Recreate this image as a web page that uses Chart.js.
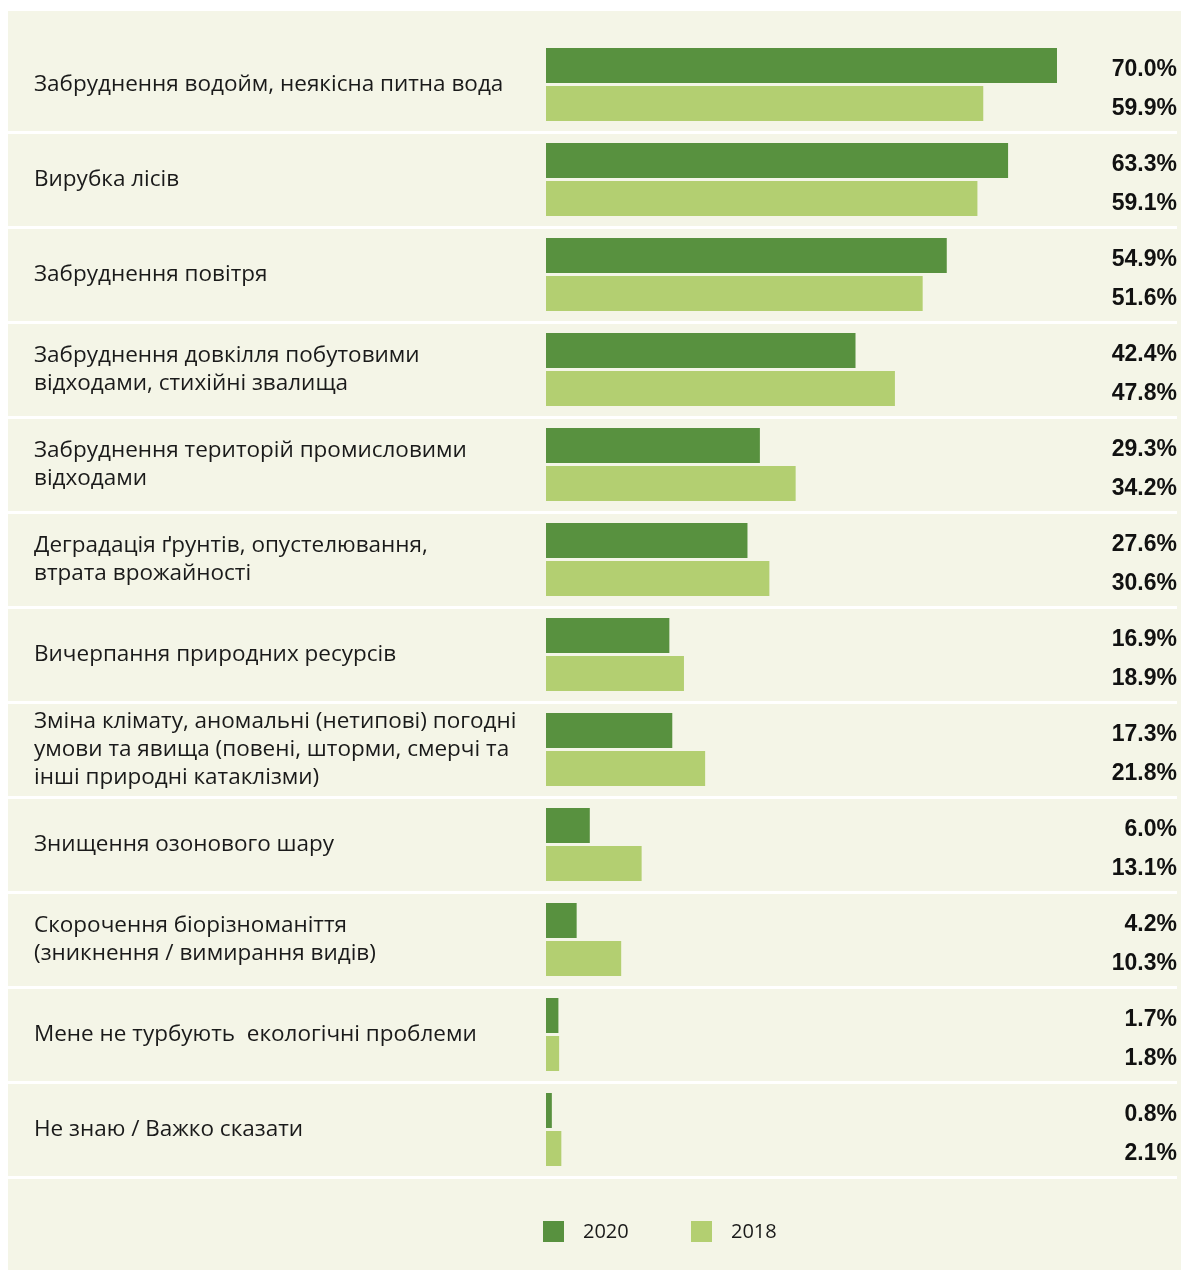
<!DOCTYPE html>
<html>
<head>
<meta charset="utf-8">
<script src="https://cdn.jsdelivr.net/npm/chart.js@4/dist/chart.umd.min.js"></script>
<style>
  body { margin: 0; background: #ffffff; }
  #panel { position: absolute; left: 8px; top: 11px; width: 1173px; height: 1259px; background: #f4f5e7; }
  canvas { display: block; }
</style>
</head>
<body>
<div id="panel"><canvas id="chart" width="1173" height="1259"></canvas></div>
<script>
const categories = [
  "Забруднення водойм, неякісна питна вода",
  "Вирубка лісів",
  "Забруднення повітря",
  ["Забруднення довкілля побутовими", "відходами, стихійні звалища"],
  ["Забруднення територій промисловими", "відходами"],
  ["Деградація ґрунтів, опустелювання,", "втрата врожайності"],
  "Вичерпання природних ресурсів",
  ["Зміна клімату, аномальні (нетипові) погодні", "умови та явища (повені, шторми, смерчі та", "інші природні катаклізми)"],
  "Знищення озонового шару",
  ["Скорочення біорізноманіття", "(зникнення / вимирання видів)"],
  "Мене не турбують  екологічні проблеми",
  "Не знаю / Важко сказати"
];
const values_2020 = [70.0, 63.3, 54.9, 42.4, 29.3, 27.6, 16.9, 17.3, 6.0, 4.2, 1.7, 0.8];
const values_2018 = [59.9, 59.1, 51.6, 47.8, 34.2, 30.6, 18.9, 21.8, 13.1, 10.3, 1.8, 2.1];
const series_names = ["2020", "2018"];
const series_colors = ["#58913f", "#b3cf71"];

// percentage labels at the right edge, next to each bar
const value_labels = {
  id: "value_labels",
  afterDatasetsDraw(chart) {
    const ctx = chart.ctx;
    ctx.save();
    ctx.font = "bold 23px 'Liberation Sans'";
    ctx.fillStyle = "#111111";
    ctx.textAlign = "right";
    ctx.textBaseline = "middle";
    chart.data.datasets.forEach((ds, i) => {
      chart.getDatasetMeta(i).data.forEach((bar, j) => {
        ctx.fillText(ds.data[j].toFixed(1) + "%", chart.chartArea.right, bar.y + 4.5 + i);
      });
    });
    ctx.restore();
  }
};

// legend under the rows
const bottom_legend = {
  id: "bottom_legend",
  afterDraw(chart) {
    const ctx = chart.ctx;
    const xs = [535, 683];
    const y = 1210;
    ctx.save();
    ctx.font = "20px 'Open Sans'";
    ctx.textBaseline = "middle";
    ctx.textAlign = "left";
    chart.data.datasets.forEach((ds, i) => {
      ctx.fillStyle = ds.backgroundColor;
      ctx.fillRect(xs[i], y, 21, 21);
      ctx.fillStyle = "#1a1a1a";
      ctx.fillText(ds.label, xs[i] + 40, y + 11);
    });
    ctx.restore();
  }
};

const data = {
  labels: categories,
  datasets: [
    {
      label: series_names[0],
      data: values_2020,
      backgroundColor: series_colors[0],
      categoryPercentage: 0.8,
      barPercentage: 0.921,
    },
    {
      label: series_names[1],
      data: values_2018,
      backgroundColor: series_colors[1],
      categoryPercentage: 0.8,
      barPercentage: 0.921,
    },
  ],
};

const config = {
  type: "bar",
  data: data,
  options: {
    indexAxis: "y",
    responsive: false,
    animation: false,
    events: [],
    layout: {
      padding: { top: 26, left: 26, right: 4, bottom: 93 },
    },
    plugins: {
      legend: { display: false },
      tooltip: { enabled: false },
    },
    scales: {
      x: {
        display: false,
        min: 0,
        max: 86.44,
      },
      y: {
        afterFit(scale) { scale.width = 512; },
        border: { display: false },
        grid: {
          offset: true,
          color: (c) => (c.index === 0 ? "rgba(0,0,0,0)" : "#ffffff"),
          lineWidth: 3,
          drawTicks: true,
          tickLength: 538,
        },
        ticks: {
          autoSkip: false,
          crossAlign: "far",
          padding: 0,
          color: "#1a1a1a",
          font: { family: "'Open Sans'", size: 22.5, lineHeight: 1.245 },
        },
      },
    },
  },
  plugins: [value_labels, bottom_legend],
};

new Chart(document.getElementById("chart"), config);
</script>
</body>
</html>
